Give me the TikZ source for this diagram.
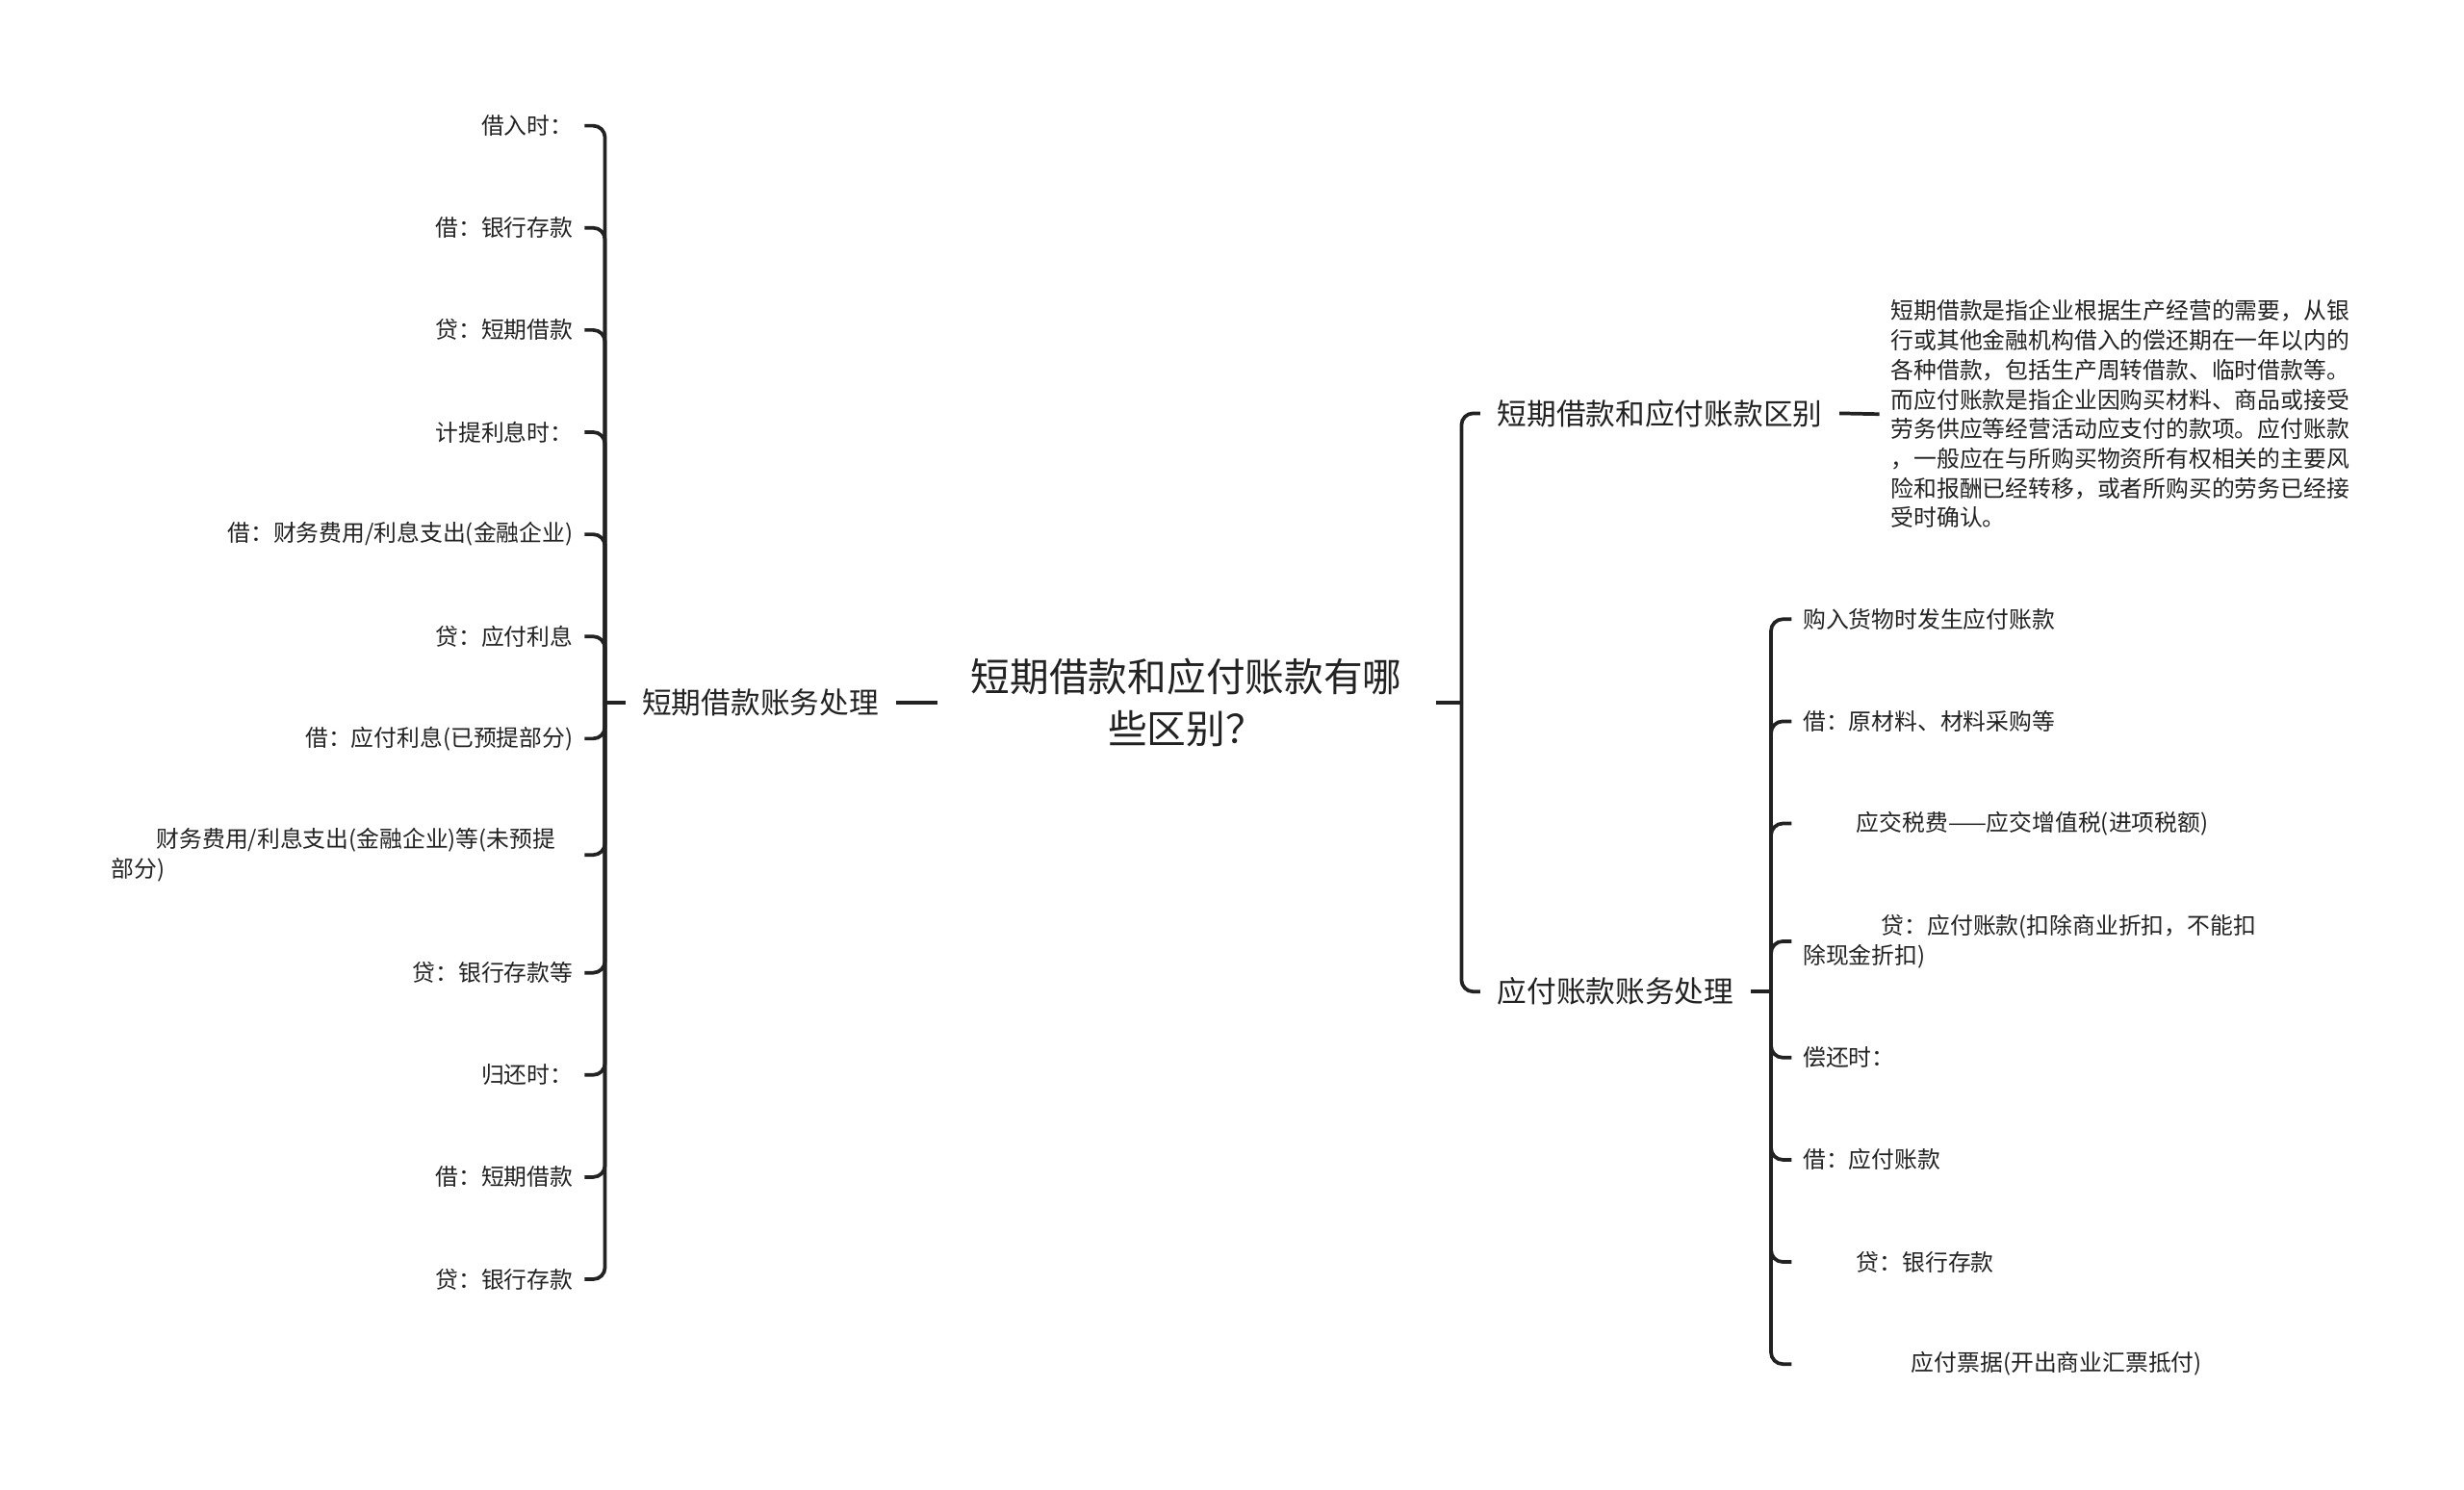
\documentclass[tikz,border=0pt]{standalone}
\usepackage{fontspec}
\setmainfont{Noto Sans CJK SC}
\usetikzlibrary{positioning}

\definecolor{inkgray}{HTML}{222222}

\begin{document}
\begin{tikzpicture}[x=0.02cm, y=-0.02cm,
    wire/.style={draw=inkgray, line width=1.3pt},
    elbow/.style={wire, rounded corners=0.15cm},
    hubnode/.style={text=inkgray, font=\fontsize{14.2}{18.7}\selectfont, align=center, inner xsep=12pt},
    branchnode/.style={text=inkgray, font=\fontsize{10.7}{13}\selectfont, inner xsep=6pt},
    leafnode/.style={text=inkgray, font=\fontsize{8.3}{10.7}\selectfont, inner xsep=4pt, align=left}]

    \useasboundingbox (0,0) rectangle (1568,948);

    % centre and the three topics
    \node[hubnode] (q) at (755,447) {短期借款和应付账款有哪\\些区别？};
    \node[branchnode, anchor=east] (loan) at (570,447) {短期借款账务处理};
    \node[branchnode, anchor=west] (diff) at (942,263) {短期借款和应付账款区别};
    \node[branchnode, anchor=west] (ap) at (942,631) {应付账款账务处理};

    \coordinate (lbar) at (385,447);
    \coordinate (rbar) at (930,447);
    \coordinate (apbar) at (1127,631);

    % left side
    \node[leafnode, anchor=east] (l1) at (372,80) {借入时：};
    \node[leafnode, anchor=east] (l2) at (372,145) {借：银行存款};
    \node[leafnode, anchor=east] (l3) at (372,210) {贷：短期借款};
    \node[leafnode, anchor=east] (l4) at (372,275) {计提利息时：};
    \node[leafnode, anchor=east] (l5) at (372,340) {借：财务费用/利息支出(金融企业)};
    \node[leafnode, anchor=east] (l6) at (372,405) {贷：应付利息};
    \node[leafnode, anchor=east] (l7) at (372,470) {借：应付利息(已预提部分)};
    \node[leafnode, anchor=east, text width=5.88cm] (l8) at (372,544)
        {\hspace*{0.58cm}财务费用/利息支出(金融企业)等(未预提\\部分)};
    \node[leafnode, anchor=east] (l9) at (372,619) {贷：银行存款等};
    \node[leafnode, anchor=east] (l10) at (372,684) {归还时：};
    \node[leafnode, anchor=east] (l11) at (372,749) {借：短期借款};
    \node[leafnode, anchor=east] (l12) at (372,814) {贷：银行存款};

    % right side
    \node[leafnode, anchor=west] (desc) at (1196,263.5) {短期借款是指企业根据生产经营的需要，从银\\
        行或其他金融机构借入的偿还期在一年以内的\\
        各种借款，包括生产周转借款、临时借款等。\\
        而应付账款是指企业因购买材料、商品或接受\\
        劳务供应等经营活动应支付的款项。应付账款\\
        ，一般应在与所购买物资所有权相关的主要风\\
        险和报酬已经转移，或者所购买的劳务已经接\\
        受时确认。};

    \node[leafnode, anchor=west] (r1) at (1140,394) {购入货物时发生应付账款};
    \node[leafnode, anchor=west] (r2) at (1140,459) {借：原材料、材料采购等};
    \node[leafnode, anchor=west] (r3) at (1140,524) {\hspace*{0.68cm}应交税费——应交增值税(进项税额)};
    \node[leafnode, anchor=west] (r4) at (1140,599)
        {\hspace*{1.0cm}贷：应付账款(扣除商业折扣，不能扣\\除现金折扣)};
    \node[leafnode, anchor=west] (r5) at (1140,673) {偿还时：};
    \node[leafnode, anchor=west] (r6) at (1140,738) {借：应付账款};
    \node[leafnode, anchor=west] (r7) at (1140,803) {\hspace*{0.68cm}贷：银行存款};
    \node[leafnode, anchor=west] (r8) at (1140,868) {\hspace*{1.38cm}应付票据(开出商业汇票抵付)};

    % connectors
    \draw[wire] (q.west) -- (loan.east);
    \draw[wire] (loan.west) -- (lbar);
    \foreach \n in {1,...,12}
        \draw[elbow] (lbar) |- (l\n.east);

    \draw[wire] (q.east) -- (rbar);
    \draw[elbow] (rbar) |- (diff.west);
    \draw[elbow] (rbar) |- (ap.west);
    \draw[wire] (diff.east) -- (desc.west);

    \draw[wire] (ap.east) -- (apbar);
    \foreach \n in {1,...,8}
        \draw[elbow] (apbar) |- (r\n.west);
\end{tikzpicture}
\end{document}
